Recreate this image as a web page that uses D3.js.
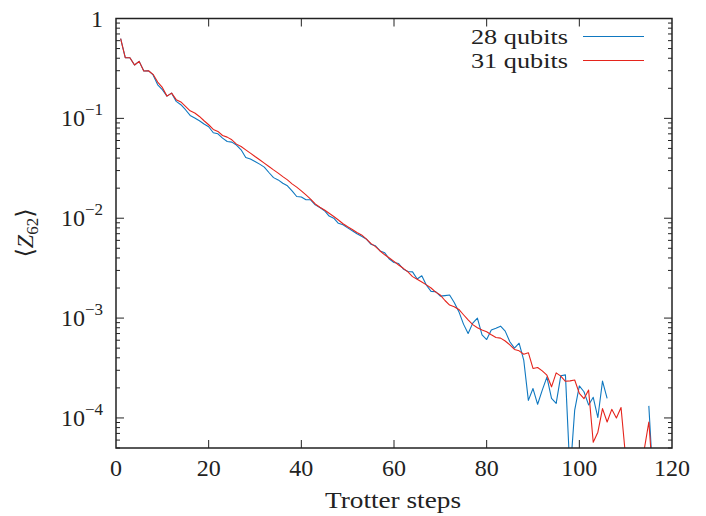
<!DOCTYPE html>
<html><head><meta charset="utf-8">
<script src="https://cdn.jsdelivr.net/npm/d3@7"></script>
<style>
body{margin:0;background:#fff}
text{font-family:"Liberation Serif","Times New Roman","DejaVu Serif",serif;fill:#222}
</style>
</head><body>
<svg id="chart" width="706" height="516"></svg>
<script>
const steps = d3.range(1, 117);
const qubits28 = [
0.63,0.405,0.405,0.342,0.372,0.298,0.30,0.272,0.217,0.194,
0.167,0.179,0.148,0.137,0.122,0.107,0.101,0.0946,0.0877,0.0824,
0.0718,0.070,0.0634,0.0587,0.0578,0.054,0.0484,0.0405,0.0391,0.037,
0.0348,0.0325,0.0287,0.0255,0.0242,0.0224,0.0211,0.0188,0.0165,0.0163,
0.0153,0.0153,0.0136,0.0128,0.0119,0.0105,0.0100,0.0089,0.0086,0.0080,
0.0075,0.0070,0.0066,0.0062,0.0055,0.0053,0.0047,0.0045,0.0039,0.0036,
0.00352,0.0031,0.00293,0.0029,0.00246,0.00265,0.00213,0.00185,0.00184,0.00166,
0.00168,0.0017,0.00143,0.00116,0.00087,0.0007,0.00089,0.001,0.00068,0.00061,
0.00076,0.00079,0.00083,0.00074,0.00058,0.0005,0.00056,0.00038,0.00015,0.000197,
0.000137,0.00019,0.000256,0.000157,0.00014,0.000265,0.00027,0.000027,0.00012,0.000209,
0.000183,0.000135,0.000161,0.000101,0.000234,0.000157,null,null,null,null,
null,null,null,null,0.000132,0.00002];
const qubits31 = [
0.63,0.405,0.405,0.342,0.372,0.298,0.30,0.276,0.231,0.204,
0.167,0.179,0.154,0.146,0.132,0.119,0.113,0.1045,0.0946,0.0863,
0.0774,0.074,0.0674,0.0649,0.061,0.0552,0.0523,0.0484,0.0449,0.0415,
0.0385,0.0356,0.033,0.0305,0.0283,0.0261,0.0242,0.0221,0.0205,0.0188,
0.0171,0.0155,0.0139,0.0129,0.0121,0.0112,0.0104,0.0096,0.0088,0.0082,
0.0077,0.0072,0.0068,0.0062,0.0056,0.0052,0.0047,0.0043,0.0040,0.0037,
0.0034,0.00315,0.0029,0.0026,0.00245,0.0023,0.00215,0.0020,0.00182,0.0017,
0.0015,0.00135,0.0013,0.00122,0.00108,0.00096,0.00086,0.0008,0.00076,0.00073,
0.00068,0.00064,0.00063,0.00059,0.00054,0.000485,0.00047,0.000435,0.00045,0.000313,
0.00032,0.000296,0.000268,0.000205,0.000283,0.000262,0.000233,0.000235,0.00024,0.000176,
0.000156,0.00019,0.000057,0.000072,0.000124,0.000091,0.000122,0.0001,0.000127,0.00004,
null,null,null,0.000048,0.000091,0.000021];
const seriesNames = ["28 qubits", "31 qubits"];
const seriesColors = ["#0f78c0", "#e5241c"];
const xTicks = [0, 20, 40, 60, 80, 100, 120];
const yExponents = [0, -1, -2, -3, -4];

const L = 116, R = 672, T = 18.5, B = 448;
const svg = d3.select("#chart");
const x = d3.scaleLinear().domain([0, 120]).range([L, R]);
const y = d3.scaleLog().domain([5e-5, 1]).range([B, T]);

svg.append("defs").append("clipPath").attr("id", "clip")
  .append("rect").attr("x", L).attr("y", T).attr("width", R - L).attr("height", B - T);

// ticks
const tk = svg.append("g").attr("stroke", "#222").attr("stroke-width", 1);
xTicks.slice(1, -1).forEach(t => {
  tk.append("line").attr("x1", x(t)).attr("x2", x(t)).attr("y1", B).attr("y2", B - 8);
  tk.append("line").attr("x1", x(t)).attr("x2", x(t)).attr("y1", T).attr("y2", T + 8);
});
yExponents.forEach(e => {
  const v = Math.pow(10, e);
  if (e !== 0) {
    tk.append("line").attr("x1", L).attr("x2", L + 8).attr("y1", y(v)).attr("y2", y(v));
    tk.append("line").attr("x1", R).attr("x2", R - 8).attr("y1", y(v)).attr("y2", y(v));
  }
  for (let m = 2; m <= 9; m++) {
    const mv = m * Math.pow(10, e - 1);
    if (mv < 5e-5 || mv > 1) continue;
    tk.append("line").attr("x1", L).attr("x2", L + 4).attr("y1", y(mv)).attr("y2", y(mv));
    tk.append("line").attr("x1", R).attr("x2", R - 4).attr("y1", y(mv)).attr("y2", y(mv));
  }
});

// series
const line = d3.line().defined(d => d[1] != null).x(d => x(d[0])).y(d => y(d[1]));
const g = svg.append("g").attr("clip-path", "url(#clip)");
[qubits28, qubits31].forEach((vals, i) => {
  g.append("path").datum(steps.map((s, j) => [s, vals[j]]))
    .attr("fill", "none").attr("stroke", seriesColors[i]).attr("stroke-width", 1.1)
    .attr("stroke-linejoin", "round").attr("d", line);
});

// frame
svg.append("rect").attr("x", L).attr("y", T).attr("width", R - L).attr("height", B - T)
  .attr("fill", "none").attr("stroke", "#222").attr("stroke-width", 1.5);

// x labels
xTicks.forEach(t => {
  svg.append("text").attr("x", x(t)).attr("y", 476).attr("text-anchor", "middle")
    .attr("font-size", 24).text(t);
});
svg.append("text").attr("x", (L + R) / 2 - 1).attr("y", 508).attr("text-anchor", "middle")
  .attr("font-size", 24).attr("textLength", 136).attr("lengthAdjust", "spacingAndGlyphs")
  .text("Trotter steps");

// y labels
yExponents.forEach(e => {
  const v = Math.pow(10, e);
  const t = svg.append("text").attr("x", 103).attr("y", y(v) + 8).attr("text-anchor", "end").attr("font-size", 24);
  if (e === 0) t.text("1");
  else {
    t.append("tspan").text("10");
    t.append("tspan").attr("font-size", 17).attr("dy", -11).text("\u2212" + (-e));
  }
});
const yl = svg.append("text").attr("transform", "translate(33,233) rotate(-90)")
  .attr("text-anchor", "middle").attr("font-size", 24);
yl.append("tspan").text("\u27E8");
yl.append("tspan").attr("font-style", "italic").text("Z");
yl.append("tspan").attr("font-size", 17).attr("dy", 5).text("62");
yl.append("tspan").attr("dy", -5).text("\u27E9");

// legend
seriesNames.forEach((n, i) => {
  const yy = 36.5 + i * 24;
  svg.append("text").attr("x", 568).attr("y", yy + 7).attr("text-anchor", "end")
    .attr("font-size", 21.5).attr("textLength", 97).attr("lengthAdjust", "spacingAndGlyphs")
    .text(n);
  svg.append("line").attr("x1", 583).attr("x2", 644).attr("y1", yy).attr("y2", yy)
    .attr("stroke", seriesColors[i]).attr("stroke-width", 1.1);
});
</script>
</body></html>
